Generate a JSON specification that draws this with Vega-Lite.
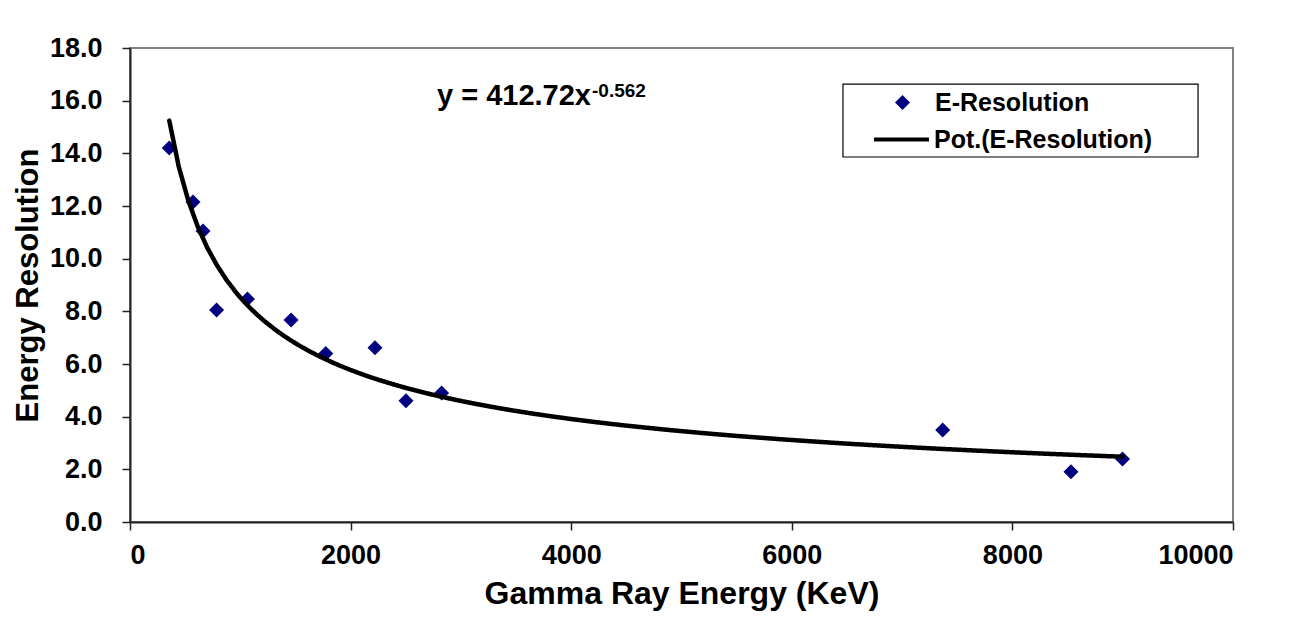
{
  "$schema": "https://vega.github.io/schema/vega-lite/v6.json",
  "width": 1103,
  "height": 474,
  "autosize": "none",
  "padding": {"left": 130, "top": 48, "right": 67, "bottom": 96},
  "background": "white",
  "config": {
    "font": "Liberation Sans",
    "view": {"stroke": "#808080", "strokeWidth": 2},
    "axis": {
      "labelFont": "Liberation Sans",
      "labelFontWeight": "bold",
      "labelColor": "#000000",
      "titleFont": "Liberation Sans",
      "titleFontWeight": "bold",
      "titleColor": "#000000",
      "domainColor": "#222222",
      "domainWidth": 2,
      "tickColor": "#222222",
      "tickWidth": 1.5,
      "tickSize": 8,
      "grid": false
    },
    "legend": {
      "labelFont": "Liberation Sans",
      "labelFontWeight": "bold",
      "labelColor": "#000000",
      "labelFontSize": 25,
      "labelLimit": 500,
      "title": null,
      "padding": 0
    }
  },
  "data": {
    "values": [
      {"Energy": 356, "Resolution": 14.2},
      {"Energy": 571, "Resolution": 12.15},
      {"Energy": 662, "Resolution": 11.05},
      {"Energy": 785, "Resolution": 8.05},
      {"Energy": 1065, "Resolution": 8.47},
      {"Energy": 1460, "Resolution": 7.67},
      {"Energy": 1775, "Resolution": 6.4},
      {"Energy": 2221, "Resolution": 6.62},
      {"Energy": 2502, "Resolution": 4.6},
      {"Energy": 2825, "Resolution": 4.9},
      {"Energy": 7368, "Resolution": 3.49},
      {"Energy": 8531, "Resolution": 1.91},
      {"Energy": 8998, "Resolution": 2.39}
    ]
  },
  "layer": [
    {
      "data": {"values": [{"box": "legend"}]},
      "mark": {"type": "rect", "fill": "white", "stroke": "#000000", "strokeWidth": 1.2},
      "encoding": {
        "x": {
          "datum": 6464,
          "type": "quantitative",
          "scale": {"domain": [0, 10000], "nice": false},
          "axis": {
            "values": [0, 2000, 4000, 6000, 8000, 10000],
            "format": "d",
            "title": "Gamma Ray Energy (KeV)",
            "labelFontSize": 27,
            "titleFontSize": 32,
            "labelPadding": 12,
            "titlePadding": 10
          }
        },
        "x2": {"datum": 9683},
        "y": {
          "datum": 16.63,
          "type": "quantitative",
          "scale": {"domain": [0, 18], "nice": false},
          "axis": {
            "values": [0, 2, 4, 6, 8, 10, 12, 14, 16, 18],
            "format": ".1f",
            "title": "Energy Resolution",
            "labelFontSize": 27,
            "titleFontSize": 31,
            "labelPadding": 20,
            "titlePadding": 5
          }
        },
        "y2": {"datum": 13.86}
      }
    },
    {
      "mark": {"type": "point", "shape": "diamond", "filled": true, "size": 225, "opacity": 1},
      "encoding": {
        "x": {"field": "Energy", "type": "quantitative"},
        "y": {"field": "Resolution", "type": "quantitative"},
        "color": {
          "datum": "E-Resolution",
          "scale": {"domain": ["E-Resolution"], "range": ["#000080"]},
          "legend": {
            "orient": "none",
            "legendX": 760,
            "legendY": 42,
            "symbolOffset": 0,
            "labelOffset": 20,
            "symbolSize": 225,
            "symbolType": "diamond"
          }
        }
      }
    },
    {
      "transform": [
        {"regression": "Resolution", "on": "Energy", "method": "pow"}
      ],
      "mark": {"type": "line", "strokeWidth": 4.5, "strokeCap": "round", "color": "#000000"},
      "encoding": {
        "x": {"field": "Energy", "type": "quantitative"},
        "y": {"field": "Resolution", "type": "quantitative"},
        "strokeDash": {
          "datum": "Pot.(E-Resolution)",
          "scale": {"domain": ["Pot.(E-Resolution)"], "range": [[1, 0]]},
          "legend": {
            "orient": "none",
            "legendX": 742,
            "legendY": 62,
            "symbolOffset": 0,
            "labelOffset": 3,
            "symbolSize": 3025,
            "symbolStrokeWidth": 4,
            "symbolStrokeColor": "#000000",
            "symbolType": "stroke"
          }
        }
      }
    },
    {
      "data": {"values": [{"label": "y = 412.72x"}]},
      "mark": {"type": "text", "align": "left", "baseline": "alphabetic", "fontSize": 29, "fontWeight": "bold", "color": "#000000"},
      "encoding": {
        "x": {"datum": 2783},
        "y": {"datum": 15.84},
        "text": {"field": "label"}
      }
    },
    {
      "data": {"values": [{"label": "-0.562"}]},
      "mark": {"type": "text", "align": "left", "baseline": "alphabetic", "fontSize": 19, "fontWeight": "bold", "color": "#000000"},
      "encoding": {
        "x": {"datum": 4189},
        "y": {"datum": 16.14},
        "text": {"field": "label"}
      }
    }
  ]
}
